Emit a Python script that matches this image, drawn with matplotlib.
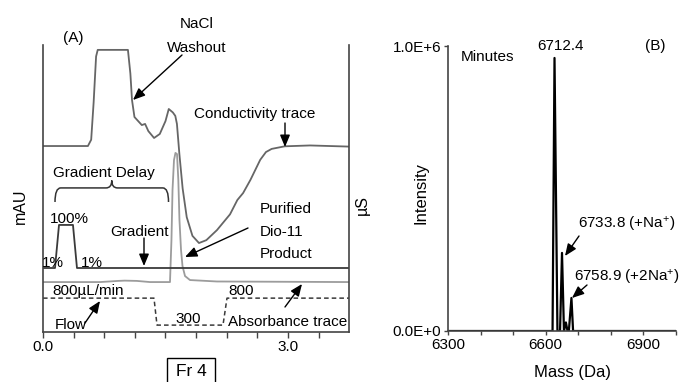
import numpy as np
import matplotlib
matplotlib.use("Agg")
import matplotlib.pyplot as plt
from matplotlib.path import Path
from matplotlib.patches import PathPatch, Rectangle

plt.rcParams['font.family'] = ['Liberation Sans', 'DejaVu Sans']
plt.rcParams['mathtext.default'] = 'regular'
plt.rcParams['font.size'] = 11

# --- Panel A: chromatogram traces (time in min, relative signal 0-100) ---
cond_t = [0.00, 0.55, 0.59, 0.62, 0.65, 0.67, 1.04, 1.07, 1.09, 1.12, 1.21, 1.25,
          1.29, 1.36, 1.43, 1.50, 1.54, 1.59, 1.62, 1.64, 1.67, 1.71, 1.76, 1.83,
          1.91, 2.00, 2.13, 2.29, 2.38, 2.45, 2.54, 2.66, 2.73, 2.80, 2.96, 3.27, 3.75]
cond_y = [64.8, 64.8, 67.0, 80.0, 96.0, 98.3, 98.3, 90.0, 80.8, 74.9, 72.1, 72.5,
          70.0, 67.6, 69.0, 73.5, 77.7, 76.5, 75.3, 72.5, 62.0, 50.0, 40.0, 33.5,
          31.0, 32.0, 35.5, 41.0, 46.0, 48.4, 53.0, 60.0, 62.7, 63.8, 64.7, 65.0, 64.6]

abs_t = [0.00, 0.70, 0.92, 1.00, 1.15, 1.31, 1.555, 1.573, 1.586, 1.604, 1.622,
         1.641, 1.657, 1.671, 1.690, 1.708, 1.739, 1.80, 2.13, 3.75]
abs_y = [17.4, 17.4, 17.8, 17.9, 17.8, 17.4, 17.4, 32.1, 49.5, 59.9, 62.4,
         62.0, 53.0, 39.0, 28.6, 23.0, 19.5, 18.1, 17.6, 17.4]

grad_t = [0.00, 0.147, 0.196, 0.367, 0.416, 3.75]
grad_y = [22.3, 22.3, 37.3, 37.3, 22.3, 22.3]

flow_t = [0.00, 1.359, 1.396, 2.204, 2.253, 3.75]
flow_y = [11.8, 11.8, 2.4, 2.4, 11.8, 11.8]

delay_start, delay_end = 0.147, 1.537

# --- Panel B: mass spectrum ---
ms_mass = [6300, 6621, 6627, 6636, 6644, 6650, 6656, 6662, 6667, 6671, 6679, 6684, 7000]
ms_int = [0, 0, 9.58e5, 0, 0, 2.74e5, 0, 3.0e4, 0, 0, 1.16e5, 0, 0]

W, H = 684, 382


def fp(px, py):
    return (px / W, 1 - py / H)


fig = plt.figure(figsize=(6.84, 3.82), dpi=100)
axA = fig.add_axes([43 / W, 1 - 332 / H, (349 - 43) / W, (332 - 45) / H])
axB = fig.add_axes([448 / W, 1 - 331 / H, (676 - 448) / W, (331 - 46) / H])

axA.plot(cond_t, cond_y, color='#666666', lw=1.3)
axA.plot(abs_t, abs_y, color='#9c9c9c', lw=1.3)
axA.plot(grad_t, grad_y, color='#3a3a3a', lw=1.3)
axA.plot(flow_t, flow_y, color='#3a3a3a', lw=1.1, ls=(0, (3, 2)))

# curly brace for gradient delay
yb_end, yb_h, yb_tip = 45.3, 50.2, 52.8
xm = (delay_start + delay_end) / 2
d = 0.07
verts = [(delay_start, yb_end), (delay_start, yb_h), (delay_start + d, yb_h),
         (xm - d, yb_h), (xm, yb_h), (xm, yb_tip),
         (xm, yb_h), (xm + d, yb_h),
         (delay_end - d, yb_h), (delay_end, yb_h), (delay_end, yb_end)]
codes = [Path.MOVETO, Path.CURVE3, Path.CURVE3,
         Path.LINETO, Path.CURVE3, Path.CURVE3,
         Path.CURVE3, Path.CURVE3,
         Path.LINETO, Path.CURVE3, Path.CURVE3]
axA.add_patch(PathPatch(Path(verts, codes), fill=False, ec='#333333', lw=1.1))

axA.set_xlim(0, 3.747)
axA.set_ylim(0, 100)
ticks = np.arange(0, 3.75, 0.375)
axA.set_xticks(ticks)
axA.set_xticklabels(['0.0' if i == 0 else ('3.0' if i == 8 else '') for i in range(len(ticks))])
axA.set_yticks([])
axA.spines['top'].set_visible(False)
for s in ['left', 'right', 'bottom']:
    axA.spines[s].set_color('#444444')
    axA.spines[s].set_linewidth(1.2)
axA.tick_params(axis='x', length=4, width=1.0, color='#444444', pad=2, labelsize=11)

axB.plot(ms_mass, ms_int, color='black', lw=1.6)
axB.set_xlim(6300, 7000)
axB.set_ylim(0, 1.0e6)
axB.set_xticks(range(6300, 7001, 100))
axB.set_xticklabels([str(m) if m in (6300, 6600, 6900) else '' for m in range(6300, 7001, 100)])
axB.set_yticks([0, 1.0e6])
axB.set_yticklabels(['0.0E+0', '1.0E+6'])
axB.spines['top'].set_visible(False)
axB.spines['right'].set_visible(False)
for s in ['left', 'bottom']:
    axB.spines[s].set_color('#444444')
    axB.spines[s].set_linewidth(1.2)
axB.tick_params(length=3, width=1.0, color='#444444', pad=2, labelsize=11)


def txt(px, py, s, ha='left', **kw):
    fig.text(*fp(px, py), s, ha=ha, va='baseline', **kw)


def arrow(tail, head):
    fig.add_artist(matplotlib.patches.FancyArrowPatch(
        fp(*tail), fp(*head), transform=fig.transFigure,
        arrowstyle='-|>,head_length=0.6,head_width=0.25', mutation_scale=12,
        lw=1.0, color='black', shrinkA=0, shrinkB=0))


# panel A labels
txt(73, 42, "(A)", ha='center')
txt(197, 28, "NaCl", ha='center')
txt(197, 52, "Washout", ha='center')
txt(194, 118, "Conductivity trace")
txt(53, 177, "Gradient Delay")
txt(69, 223, "100%", ha='center')
txt(42, 267, "1%")
txt(81, 267, "1%")
txt(110, 236, "Gradient")
txt(260, 213, "Purified")
txt(260, 236, "Dio-11")
txt(260, 258, "Product")
txt(52, 295, "800\u00b5L/min")
txt(241, 295, "800", ha='center')
txt(188, 323, "300", ha='center')
txt(55, 329, "Flow")
txt(288, 326, "Absorbance trace", ha='center')
fig.text(*fp(20, 206), "mAU", rotation=90, ha='center', va='center', fontsize=11.5)
fig.text(*fp(362, 205), "\u00b5S", rotation=90, ha='center', va='center', fontsize=11.5)

arrow((182, 55), (133, 100))
arrow((285, 123), (285, 147))
arrow((144, 238), (144, 266))
arrow((248, 228), (185, 257))
arrow((85, 323), (100, 301))
arrow((285, 307), (302, 284))

fig.add_artist(Rectangle(fp(167, 384), 48 / W, 26 / H, transform=fig.transFigure,
                         fill=False, ec='black', lw=1.0))
txt(191, 376, "Fr 4", ha='center', fontsize=12.5)

# panel B labels
txt(655, 50, "(B)", ha='center')
txt(461, 61, "Minutes")
txt(560, 50, "6712.4", ha='center')
txt(578, 229, "6733.8 (+Na$^{+}$)")
txt(574, 282, "6758.9 (+2Na$^{+}$)")
fig.text(*fp(421, 193), "Intensity", rotation=90, ha='center', va='center', fontsize=12)
txt(572, 377, "Mass (Da)", ha='center', fontsize=12)
arrow((579, 236), (565, 256))
arrow((587, 285), (572, 298))

fig.savefig("out.png", dpi=100)
